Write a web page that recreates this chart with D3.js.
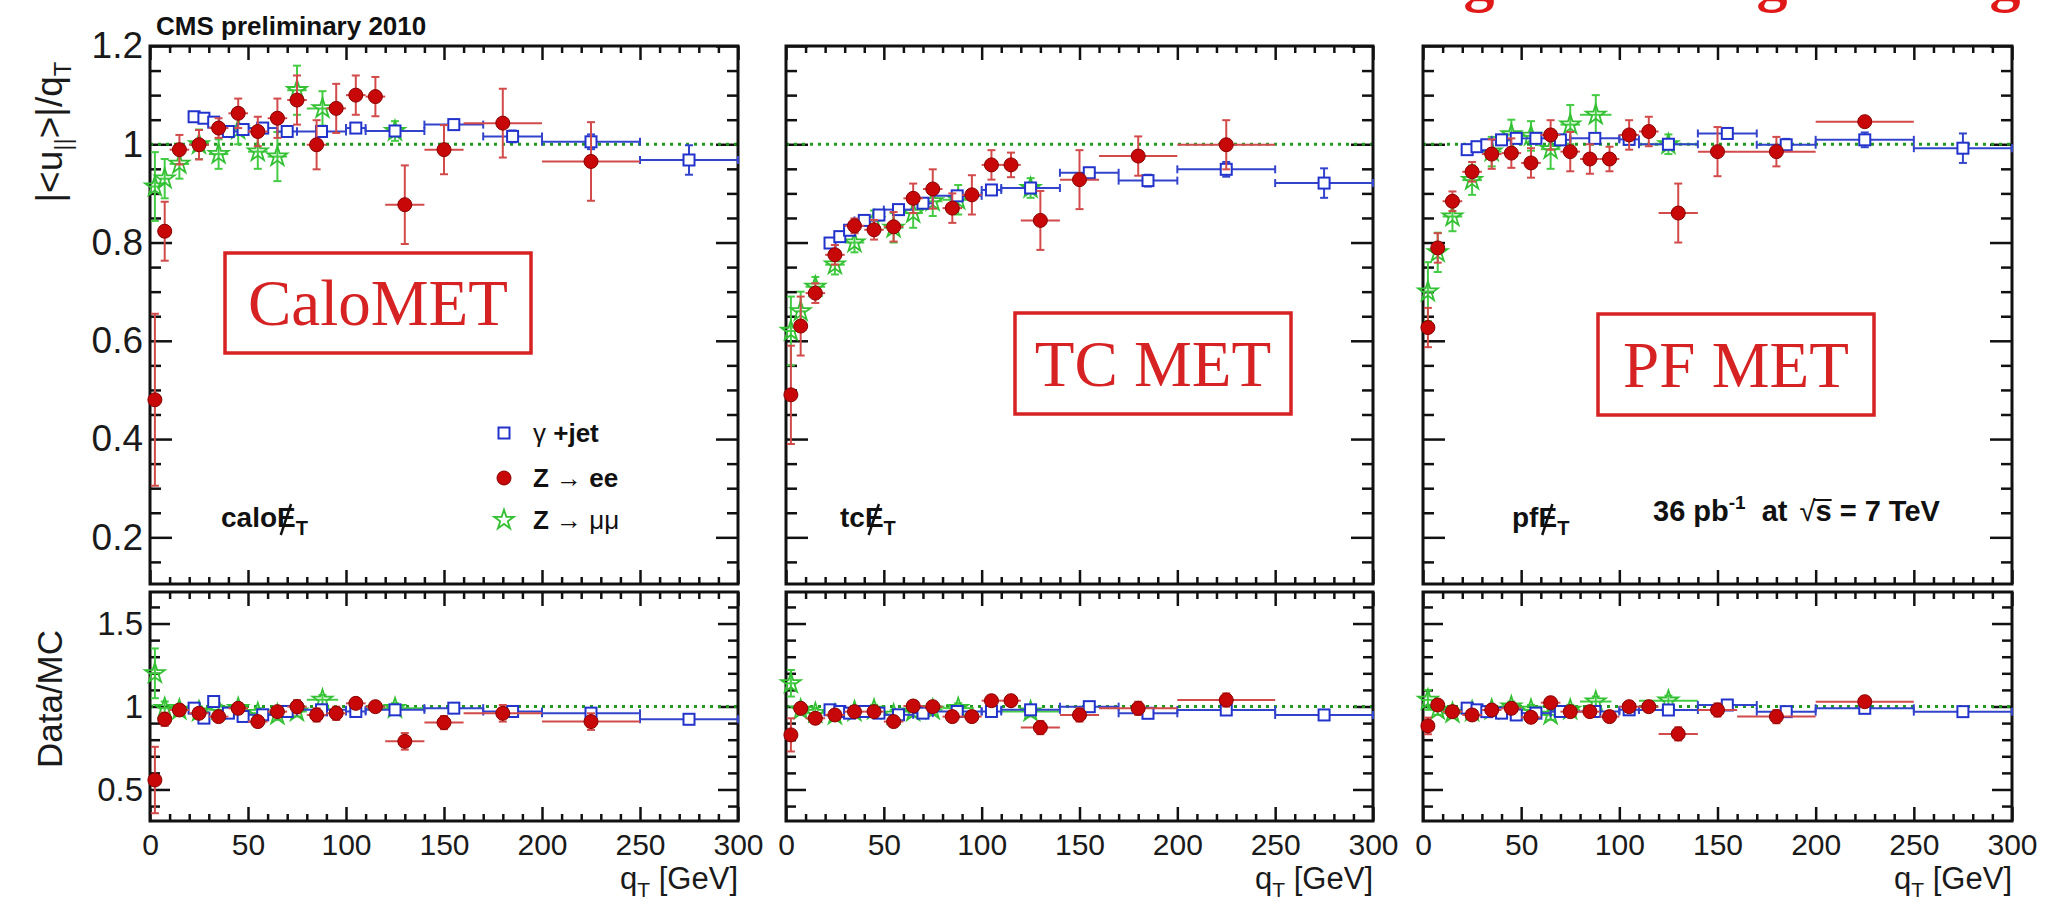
<!DOCTYPE html>
<html>
<head>
<meta charset="utf-8">
<script src="https://cdn.jsdelivr.net/npm/d3@7"></script>
<style>
body { margin: 0; background: #fff; }
</style>
</head>
<body>
<svg id="chart" width="2050" height="906" font-family='"Liberation Sans", Arial, sans-serif'></svg>
<script>
// ---------- data ----------
const boxLabels = ['CaloMET', 'TC MET', 'PF MET'];
const metPrefix = ['calo', 'tc', 'pf'];
const legendLabels = ['γ +jet', 'Z → ee', 'Z → μμ'];

const xMajor = [0, 50, 100, 150, 200, 250, 300];
const respMajor = [0.2, 0.4, 0.6, 0.8, 1, 1.2];
const ratioMajor = [0.5, 1, 1.5];

// bins: centre and half width in GeV
const zeeX    = [2.5, 7.5, 15, 25, 35, 45, 55, 65, 75, 85, 95, 105, 115, 130, 150, 180, 225];
const zeeXerr = [2.5, 2.5, 5, 5, 5, 5, 5, 5, 5, 5, 5, 5, 5, 10, 10, 20, 25];
const zmmX    = [2.5, 7.5, 15, 25, 35, 45, 55, 65, 75, 88, 125];
const zmmXerr = [2.5, 2.5, 5, 5, 5, 5, 5, 5, 5, 8, 15];
const gjX     = [22.5, 27.5, 32.5, 40, 47.5, 57.5, 70, 87.5, 105, 125, 155, 185, 225, 275];
const gjXerr  = [2.5, 2.5, 2.5, 5, 2.5, 7.5, 5, 12.5, 5, 15, 15, 15, 25, 25];

// calo MET
const caloGjResp  = [1.056, 1.053, 1.045, 1.026, 1.030, 1.033, 1.026, 1.026, 1.033, 1.027, 1.040, 1.016, 1.005, 0.968];
const caloZeeResp = [0.48, 0.823, 0.989, 0.999, 1.033, 1.063, 1.026, 1.053, 1.090, 0.999, 1.073, 1.100, 1.097, 0.877, 0.989, 1.043, 0.965];
const caloZeeRespErr = [0.175, 0.06, 0.03, 0.03, 0.02, 0.03, 0.03, 0.04, 0.05, 0.05, 0.05, 0.04, 0.04, 0.08, 0.05, 0.07, 0.08];
const caloZmmResp = [0.914, 0.93, 0.96, 1.0, 0.98, 1.03, 0.985, 0.975, 1.11, 1.073, 1.027];
const caloZmmRespErr = [0.07, 0.04, 0.03, 0.03, 0.03, 0.03, 0.035, 0.05, 0.05, 0.035, 0.02];
const caloGjRatio  = [0.99, 0.93, 1.03, 0.96, 0.94, 0.95, 0.97, 0.98, 0.97, 0.98, 0.99, 0.97, 0.96, 0.923];
const caloZeeRatio = [0.557, 0.923, 0.979, 0.959, 0.939, 0.989, 0.909, 0.969, 0.999, 0.949, 0.959, 1.019, 0.999, 0.79, 0.903, 0.959, 0.909];
const caloZeeRatioErr = [0.2, 0.04, 0.03, 0.03, 0.02, 0.03, 0.03, 0.03, 0.04, 0.04, 0.04, 0.03, 0.03, 0.05, 0.04, 0.05, 0.05];
const caloZmmRatio = [1.20, 0.99, 0.98, 0.97, 0.98, 0.99, 0.96, 0.95, 0.97, 1.04, 0.99];
const caloZmmRatioErr = [0.15, 0.04, 0.03, 0.03, 0.03, 0.03, 0.03, 0.03, 0.03, 0.03, 0.03];

// track-corrected MET
const tcGjResp  = [0.799, 0.812, 0.825, 0.845, 0.856, 0.867, 0.880, 0.895, 0.907, 0.911, 0.942, 0.926, 0.949, 0.921];
const tcZeeResp = [0.49, 0.63, 0.697, 0.775, 0.834, 0.826, 0.832, 0.890, 0.909, 0.870, 0.897, 0.958, 0.958, 0.845, 0.928, 0.976, 0.999];
const tcZeeRespErr = [0.10, 0.06, 0.02, 0.02, 0.015, 0.02, 0.03, 0.03, 0.04, 0.03, 0.04, 0.03, 0.025, 0.06, 0.06, 0.04, 0.05];
const tcZmmResp = [0.62, 0.66, 0.71, 0.755, 0.80, 0.845, 0.83, 0.86, 0.884, 0.887, 0.911];
const tcZmmRespErr = [0.07, 0.04, 0.02, 0.02, 0.02, 0.02, 0.03, 0.03, 0.03, 0.03, 0.02];
const tcGjRatio  = [0.98, 0.97, 0.96, 0.97, 0.96, 0.95, 0.96, 0.97, 0.97, 0.98, 0.999, 0.959, 0.979, 0.949];
const tcZeeRatio = [0.829, 0.989, 0.929, 0.949, 0.969, 0.969, 0.909, 1.003, 0.999, 0.939, 0.939, 1.035, 1.035, 0.873, 0.949, 0.989, 1.039];
const tcZeeRatioErr = [0.10, 0.03, 0.03, 0.03, 0.02, 0.03, 0.03, 0.03, 0.03, 0.03, 0.03, 0.03, 0.03, 0.04, 0.04, 0.04, 0.04];
const tcZmmRatio = [1.14, 0.98, 0.96, 0.95, 0.97, 0.98, 0.95, 0.97, 0.98, 0.99, 0.97];
const tcZmmRatioErr = [0.08, 0.03, 0.03, 0.03, 0.03, 0.03, 0.03, 0.03, 0.03, 0.03, 0.03];

// particle-flow MET
const pfGjResp  = [0.989, 0.995, 0.999, 1.009, 1.012, 1.012, 1.009, 1.012, 1.010, 1.000, 1.022, 0.999, 1.009, 0.992];
const pfZeeResp = [0.627, 0.789, 0.884, 0.944, 0.980, 0.982, 0.962, 1.019, 0.985, 0.970, 0.970, 1.019, 1.026, 0.860, 0.985, 0.985, 1.046];
const pfZeeRespErr = [0.04, 0.03, 0.02, 0.02, 0.03, 0.03, 0.03, 0.03, 0.04, 0.03, 0.025, 0.03, 0.03, 0.06, 0.05, 0.03, 0.01];
const pfZmmResp = [0.70, 0.78, 0.853, 0.927, 0.985, 1.02, 1.017, 0.99, 1.04, 1.06, 1.0];
const pfZmmRespErr = [0.06, 0.04, 0.03, 0.03, 0.03, 0.03, 0.03, 0.04, 0.04, 0.04, 0.02];
const pfGjRatio  = [0.99, 0.98, 0.969, 0.96, 0.949, 0.96, 0.97, 0.97, 0.98, 0.979, 1.009, 0.969, 0.989, 0.969];
const pfZeeRatio = [0.883, 1.009, 0.969, 0.949, 0.979, 0.989, 0.935, 1.023, 0.969, 0.969, 0.939, 0.999, 0.999, 0.835, 0.979, 0.939, 1.029];
const pfZeeRatioErr = [0.05, 0.03, 0.03, 0.03, 0.03, 0.03, 0.03, 0.03, 0.03, 0.03, 0.03, 0.03, 0.03, 0.04, 0.04, 0.04, 0.03];
const pfZmmRatio = [1.04, 0.98, 0.96, 0.97, 0.98, 1.0, 0.98, 0.95, 0.98, 1.03, 1.035];
const pfZmmRatioErr = [0.06, 0.03, 0.03, 0.03, 0.03, 0.03, 0.03, 0.03, 0.03, 0.03, 0.03];

// photon+jet errors are small and similar in all three panels
const gjRespErr  = [0.005, 0.005, 0.005, 0.005, 0.005, 0.005, 0.005, 0.006, 0.007, 0.008, 0.010, 0.012, 0.015, 0.03];
const gjRatioErr = [0.01, 0.01, 0.01, 0.01, 0.01, 0.01, 0.01, 0.01, 0.01, 0.01, 0.01, 0.012, 0.015, 0.02];

// ---------- layout ----------
const panelLeft  = [150, 786, 1423];
const panelRight = [738, 1373, 2012];
const respTop = 46, respBottom = 584, ratioTop = 592, ratioBottom = 821;
const serif = '"Liberation Serif", "Times New Roman", serif';

const svg = d3.select('#chart');
svg.append('rect').attr('width', 2050).attr('height', 906).attr('fill', '#fff');

const styles = {
    gj:  { err: '#3344cc', mark: '#2233cc' },
    zee: { err: '#d24a4a', mark: '#c80808' },
    zmm: { err: '#44cc44', mark: '#33c033' }
};

function makePoints(xs, xe, ys, ye) {
    return xs.map((v, i) => ({ x: v, xe: xe[i], y: ys[i], ye: ye[i] }));
}

function drawMarkers(g, pts, kind, x, y) {
    const st = styles[kind];
    if (kind === 'gj') {
        g.selectAll('rect.m').data(pts).join('rect').attr('class', 'm')
            .attr('x', d => x(d.x) - 5.5).attr('y', d => y(d.y) - 5.5)
            .attr('width', 11).attr('height', 11)
            .attr('fill', '#fff').attr('stroke', st.mark).attr('stroke-width', 2);
    } else if (kind === 'zee') {
        g.selectAll('circle.m').data(pts).join('circle').attr('class', 'm')
            .attr('cx', d => x(d.x)).attr('cy', d => y(d.y)).attr('r', 7)
            .attr('fill', st.mark).attr('stroke', '#8a0000').attr('stroke-width', 1);
    } else {
        g.selectAll('path.m').data(pts).join('path').attr('class', 'm')
            .attr('transform', d => `translate(${x(d.x)},${y(d.y)})`)
            .attr('d', d3.symbol(d3.symbolStar, 120)())
            .attr('fill', 'none').attr('stroke', st.mark).attr('stroke-width', 1.8);
    }
}

function drawSeries(g, pts, kind, x, y) {
    const st = styles[kind];
    const eg = g.append('g').attr('stroke', st.err).attr('stroke-width', 2);
    eg.selectAll('line.h').data(pts).join('line').attr('class', 'h')
        .attr('x1', d => x(d.x - d.xe)).attr('x2', d => x(d.x + d.xe))
        .attr('y1', d => y(d.y)).attr('y2', d => y(d.y));
    eg.selectAll('line.v').data(pts).join('line').attr('class', 'v')
        .attr('x1', d => x(d.x)).attr('x2', d => x(d.x))
        .attr('y1', d => y(d.y - d.ye)).attr('y2', d => y(d.y + d.ye));
    // caps on the vertical bars
    [-1, 1].forEach(s => {
        eg.selectAll('line.c' + (s + 1)).data(pts).join('line').attr('class', 'c' + (s + 1))
            .attr('x1', d => x(d.x) - 4).attr('x2', d => x(d.x) + 4)
            .attr('y1', d => y(d.y + s * d.ye)).attr('y2', d => y(d.y + s * d.ye));
    });
    if (kind === 'gj') {
        [-1, 1].forEach(s => {
            eg.selectAll('line.e' + (s + 1)).data(pts).join('line').attr('class', 'e' + (s + 1))
                .attr('x1', d => x(d.x + s * d.xe)).attr('x2', d => x(d.x + s * d.xe))
                .attr('y1', d => y(d.y) - 4).attr('y2', d => y(d.y) + 4);
        });
    }
    drawMarkers(g.append('g'), pts, kind, x, y);
}

function styleAxis(sel, font) {
    sel.select('.domain').remove();
    sel.selectAll('line').attr('stroke', '#111').attr('stroke-width', 2.5);
    sel.selectAll('text').attr('font-family', '"Liberation Sans", Arial, sans-serif')
        .attr('font-size', font).attr('fill', '#1a1a1a');
}

function drawFrame(x, y, o) {
    const [x0, x1] = x.range();
    const [yb, yt] = y.range();
    const g = svg.append('g');
    const xMinor = d3.range(10, 300, 10).filter(v => v % 50 !== 0);

    g.append('g').attr('transform', `translate(0,${yb})`)
        .call(d3.axisBottom(x).tickValues(xMajor).tickSize(-o.xMaj).tickPadding(13)
            .tickFormat(o.xLabels ? d3.format('d') : ''))
        .call(s => styleAxis(s, 30));
    g.append('g').attr('transform', `translate(0,${yb})`)
        .call(d3.axisBottom(x).tickValues(xMinor).tickSize(-o.xMaj / 2).tickFormat(''))
        .call(s => styleAxis(s, 10));
    g.append('g').attr('transform', `translate(0,${yt})`)
        .call(d3.axisTop(x).tickValues(xMajor).tickSize(-o.xMaj).tickFormat(''))
        .call(s => styleAxis(s, 10));
    g.append('g').attr('transform', `translate(0,${yt})`)
        .call(d3.axisTop(x).tickValues(xMinor).tickSize(-o.xMaj / 2).tickFormat(''))
        .call(s => styleAxis(s, 10));

    g.append('g').attr('transform', `translate(${x0},0)`)
        .call(d3.axisLeft(y).tickValues(o.yMajor).tickSize(-o.yMaj).tickPadding(7)
            .tickFormat(o.yLabels ? (d => String(d)) : ''))
        .call(s => styleAxis(s, o.yFont));
    g.append('g').attr('transform', `translate(${x0},0)`)
        .call(d3.axisLeft(y).tickValues(o.yMinor).tickSize(-o.yMaj / 2).tickFormat(''))
        .call(s => styleAxis(s, 10));
    g.append('g').attr('transform', `translate(${x1},0)`)
        .call(d3.axisRight(y).tickValues(o.yMajor).tickSize(-o.yMaj).tickFormat(''))
        .call(s => styleAxis(s, 10));
    g.append('g').attr('transform', `translate(${x1},0)`)
        .call(d3.axisRight(y).tickValues(o.yMinor).tickSize(-o.yMaj / 2).tickFormat(''))
        .call(s => styleAxis(s, 10));

    // reference line at 1
    g.append('line').attr('x1', x0).attr('x2', x1).attr('y1', y(1)).attr('y2', y(1))
        .attr('stroke', '#1f9a1f').attr('stroke-width', 3).attr('stroke-dasharray', '3,5');

    g.append('rect').attr('x', x0).attr('y', yt).attr('width', x1 - x0).attr('height', yb - yt)
        .attr('fill', 'none').attr('stroke', '#111').attr('stroke-width', 3);
    return g;
}

const respMinor = d3.range(0.15, 1.19, 0.05).filter(v => Math.abs(v * 5 - Math.round(v * 5)) > 0.01);
const ratioMinor = d3.range(0.4, 1.69, 0.1).filter(v => Math.abs(v * 2 - Math.round(v * 2)) > 0.01);

const respGj = [caloGjResp, tcGjResp, pfGjResp];
const respZee = [caloZeeResp, tcZeeResp, pfZeeResp];
const respZeeErr = [caloZeeRespErr, tcZeeRespErr, pfZeeRespErr];
const respZmm = [caloZmmResp, tcZmmResp, pfZmmResp];
const respZmmErr = [caloZmmRespErr, tcZmmRespErr, pfZmmRespErr];
const ratioGj = [caloGjRatio, tcGjRatio, pfGjRatio];
const ratioZee = [caloZeeRatio, tcZeeRatio, pfZeeRatio];
const ratioZeeErr = [caloZeeRatioErr, tcZeeRatioErr, pfZeeRatioErr];
const ratioZmm = [caloZmmRatio, tcZmmRatio, pfZmmRatio];
const ratioZmmErr = [caloZmmRatioErr, tcZmmRatioErr, pfZmmRatioErr];

const boxes = [
    { x0: 225, x1: 531, y0: 253, y1: 353 },
    { x0: 1015, x1: 1291, y0: 313, y1: 414 },
    { x0: 1598, x1: 1874, y0: 314, y1: 415 }
];
const labelX = [221, 840, 1512];

panelLeft.forEach((left, i) => {
    const x = d3.scaleLinear().domain([0, 300]).range([left, panelRight[i]]);
    const yR = d3.scaleLinear().domain([0.105, 1.2]).range([respBottom, respTop]);
    const yQ = d3.scaleLinear().domain([0.31, 1.69]).range([ratioBottom, ratioTop]);

    const top = drawFrame(x, yR, { xMaj: 14, yMaj: 22, yMajor: respMajor, yMinor: respMinor, yLabels: i === 0, xLabels: false, yFont: 37 });
    const bot = drawFrame(x, yQ, { xMaj: 14, yMaj: 20, yMajor: ratioMajor, yMinor: ratioMinor, yLabels: i === 0, xLabels: true, yFont: 33 });

    // method box
    const b = boxes[i];
    svg.append('rect').attr('x', b.x0).attr('y', b.y0).attr('width', b.x1 - b.x0).attr('height', b.y1 - b.y0)
        .attr('fill', '#fff').attr('stroke', '#d62222').attr('stroke-width', 3.5);
    svg.append('text').attr('x', (b.x0 + b.x1) / 2).attr('y', (b.y0 + b.y1) / 2 + 22)
        .attr('text-anchor', 'middle').attr('font-family', serif)
        .attr('font-size', 65).attr('fill', '#d62222').text(boxLabels[i]);

    drawSeries(top, makePoints(zmmX, zmmXerr, respZmm[i], respZmmErr[i]), 'zmm', x, yR);
    drawSeries(top, makePoints(gjX, gjXerr, respGj[i], gjRespErr), 'gj', x, yR);
    drawSeries(top, makePoints(zeeX, zeeXerr, respZee[i], respZeeErr[i]), 'zee', x, yR);

    drawSeries(bot, makePoints(zmmX, zmmXerr, ratioZmm[i], ratioZmmErr[i]), 'zmm', x, yQ);
    drawSeries(bot, makePoints(gjX, gjXerr, ratioGj[i], gjRatioErr), 'gj', x, yQ);
    drawSeries(bot, makePoints(zeeX, zeeXerr, ratioZee[i], ratioZeeErr[i]), 'zee', x, yQ);

    // "E-slash T" label
    const ly = 527;
    const t = svg.append('text').attr('x', labelX[i]).attr('y', ly)
        .attr('font-weight', 'bold').attr('font-size', 28).attr('fill', '#111');
    t.append('tspan').text(metPrefix[i]);
    t.append('tspan').text('E');
    t.append('tspan').attr('font-size', 20).attr('dy', 8).text('T');
    const ext = t.node().getExtentOfChar(metPrefix[i].length);
    svg.append('line')
        .attr('x1', ext.x + ext.width * 0.2).attr('y1', ly + 8)
        .attr('x2', ext.x + ext.width * 0.75).attr('y2', ly - 23)
        .attr('stroke', '#111').attr('stroke-width', 2.5);

    // x title
    const xt = svg.append('text').attr('x', panelRight[i]).attr('y', 889)
        .attr('text-anchor', 'end').attr('font-size', 31).attr('fill', '#1a1a1a');
    xt.append('tspan').text('q');
    xt.append('tspan').attr('font-size', 21).attr('dy', 8).text('T');
    xt.append('tspan').attr('dy', -8).text(' [GeV]');
});

// y titles
const yt1 = svg.append('text').attr('transform', 'translate(62,132) rotate(-90)')
    .attr('text-anchor', 'middle').attr('font-size', 37).attr('fill', '#1a1a1a');
yt1.append('tspan').text('|<u');
yt1.append('tspan').attr('font-size', 24).attr('dy', 9).text('||');
yt1.append('tspan').attr('dy', -9).text('>|/q');
yt1.append('tspan').attr('font-size', 24).attr('dy', 9).text('T');

svg.append('text').attr('transform', 'translate(62,699) rotate(-90)')
    .attr('text-anchor', 'middle').attr('font-size', 35).attr('fill', '#1a1a1a').text('Data/MC');

// header
svg.append('text').attr('x', 156).attr('y', 35).attr('font-weight', 'bold')
    .attr('font-size', 26).attr('fill', '#111').text('CMS preliminary 2010');

// descenders of a red slide title cut by the top edge
[1479, 1772, 2005].forEach(cx => {
    svg.append('text').attr('x', cx).attr('y', 0).attr('text-anchor', 'middle')
        .attr('font-family', serif).attr('font-weight', 'bold')
        .attr('font-size', 62).attr('fill', '#e01818').text('g');
});

// legend
const legKinds = ['gj', 'zee', 'zmm'];
const legY = [433, 478, 520];
legKinds.forEach((k, i) => {
    const lg = svg.append('g');
    drawMarkers(lg, [{ x: 504, y: legY[i] }], k, v => v, v => v);
    const lt = svg.append('text').attr('x', 533).attr('y', legY[i] + 9)
        .attr('font-size', 26).attr('fill', '#111');
    const parts = legendLabels[i].split(' ');
    if (i === 0) {
        lt.append('tspan').text(parts[0] + ' ');
        lt.append('tspan').attr('font-weight', 'bold').text(parts[1]);
    } else {
        lt.append('tspan').attr('font-weight', 'bold').text(parts[0] + ' ');
        lt.append('tspan').text(parts[1] + ' ');
        lt.append('tspan').attr('font-weight', i === 1 ? 'bold' : 'normal').text(parts[2]);
    }
});

// luminosity label
const lum = svg.append('text').attr('x', 1653).attr('y', 521).attr('font-weight', 'bold')
    .attr('font-size', 29).attr('fill', '#111');
lum.append('tspan').text('36 pb');
lum.append('tspan').attr('font-size', 19).attr('dy', -12).text('-1');
lum.append('tspan').attr('dy', 12).attr('dx', 8).text(' at ');
lum.append('tspan').attr('font-weight', 'normal').attr('dx', 4).text('√');
lum.append('tspan').text('s = 7 TeV');
const rootIdx = '36 pb-1 at '.length;
const rExt = lum.node().getExtentOfChar(rootIdx);
const sExt = lum.node().getExtentOfChar(rootIdx + 1);
svg.append('line').attr('x1', rExt.x + rExt.width - 2).attr('x2', sExt.x + sExt.width)
    .attr('y1', rExt.y + 5).attr('y2', rExt.y + 5).attr('stroke', '#111').attr('stroke-width', 2);
</script>
</body>
</html>
